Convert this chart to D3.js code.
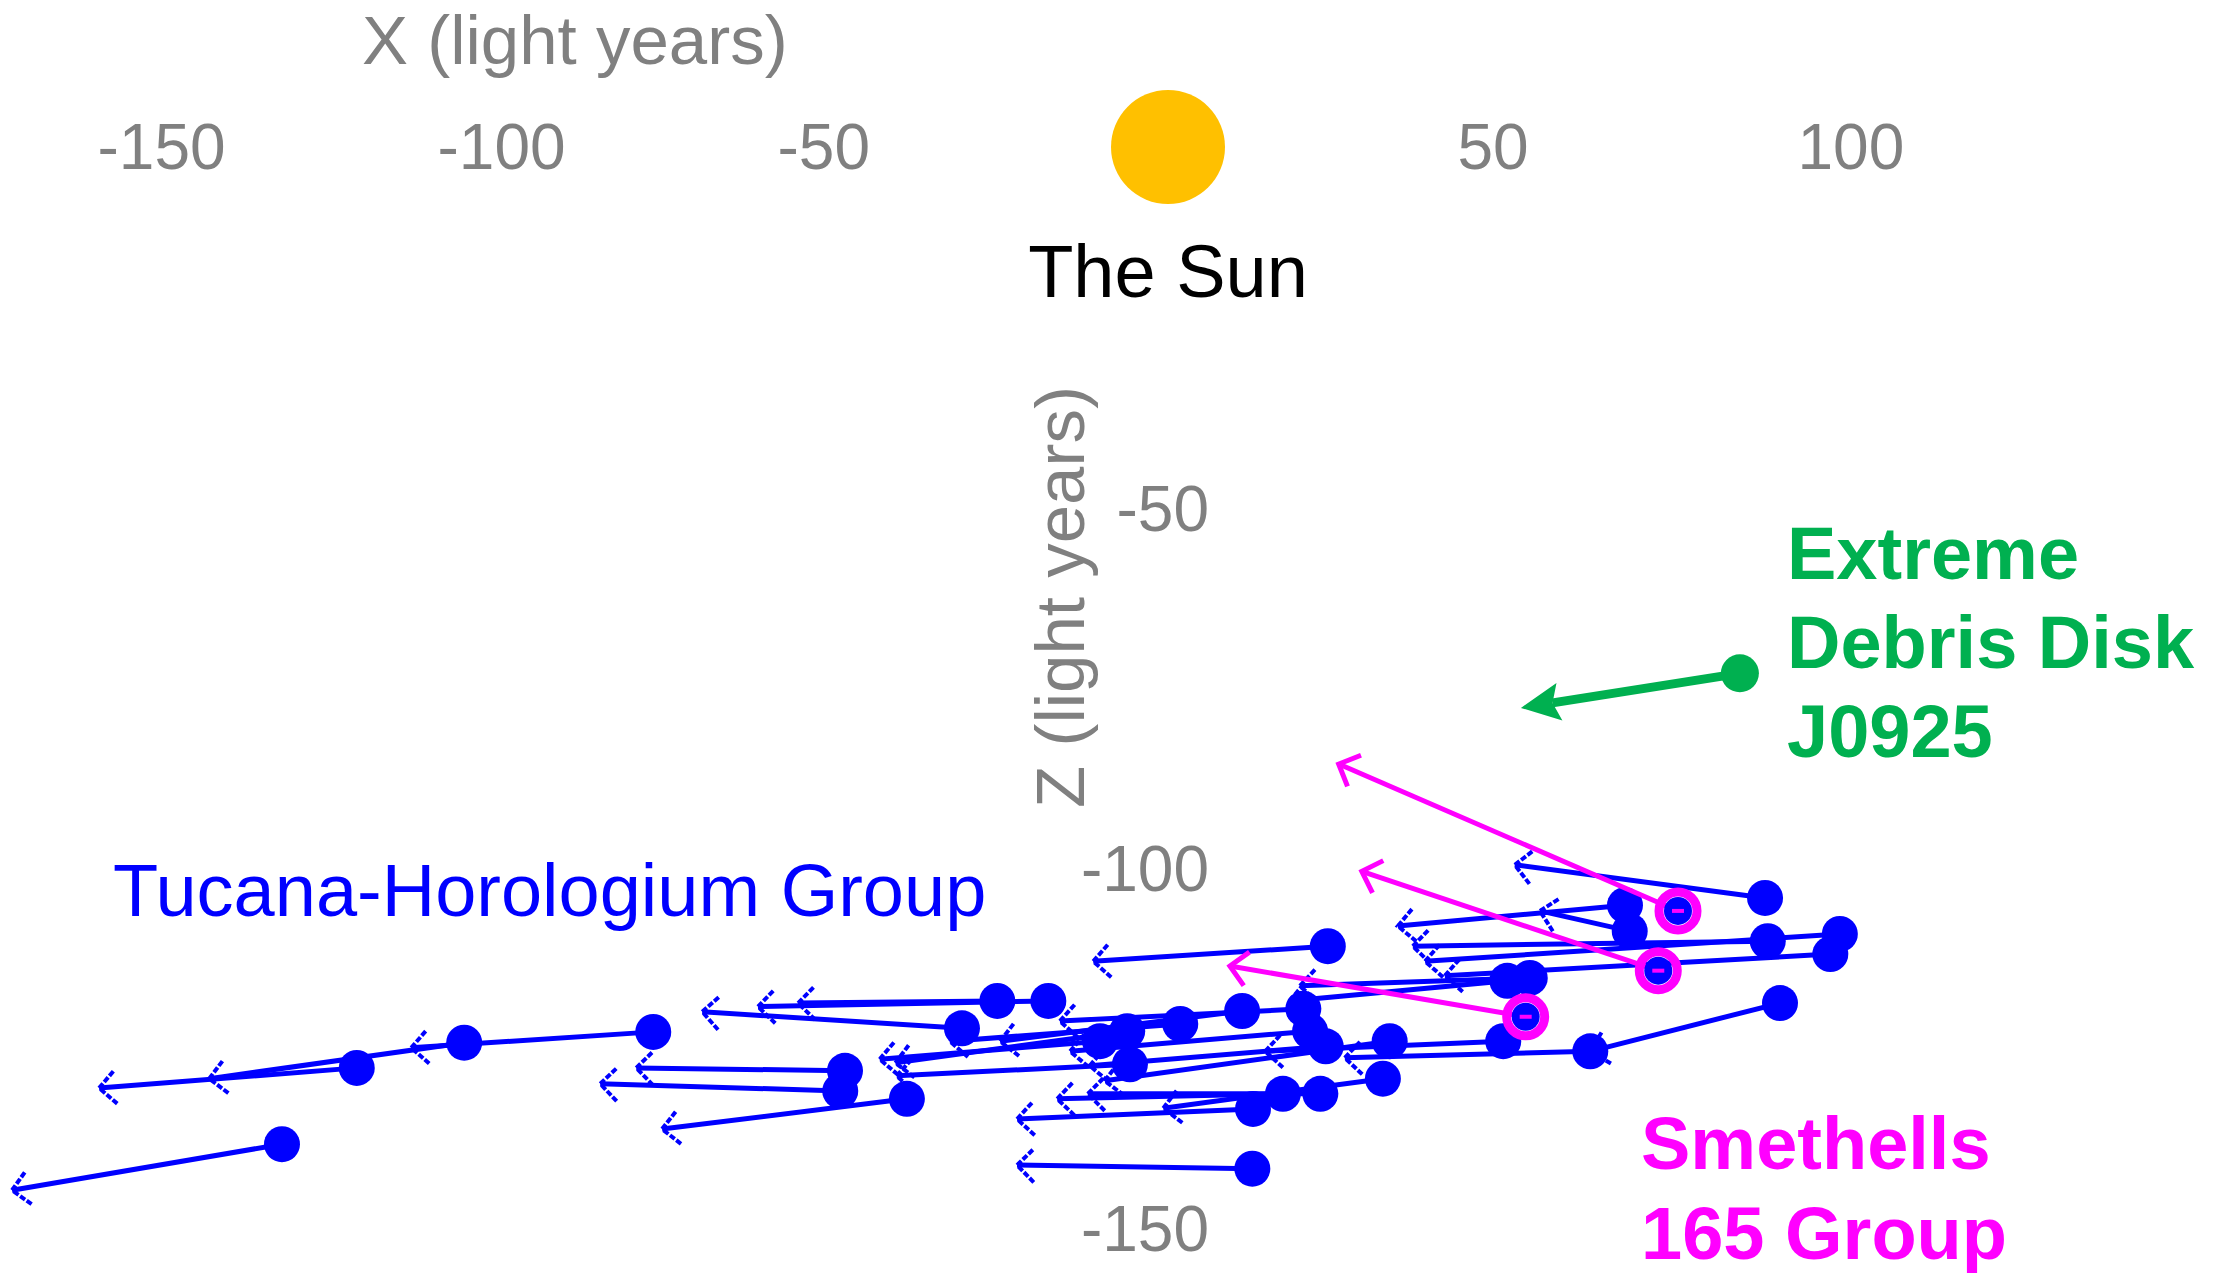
<!DOCTYPE html>
<html>
<head>
<meta charset="utf-8">
<script src="https://cdn.jsdelivr.net/npm/d3@7"></script>
<style>
  body { margin: 0; background: #fff; }
  text { font-family: "Liberation Sans", Arial, sans-serif; }
</style>
</head>
<body>
<div class="motion_wrapper"></div>
<script>

// axis ticks
const xTicks = [-150, -100, -50, 50, 100]
const zTicks = [-50, -100, -150]

// Tucana-Horologium members: position now (X, Z) and where the arrow points (ly)
const tucNowX = [-130.3, -119.3, -103.5, -75.7, -47.5, -48.2, -38.4, -25.1, -17.6, -30.3,
  -6.0, -5.6, 1.8, 10.9, 19.9, 20.9, 23.2, 32.6, 31.6, 22.4,
  16.9, 12.5, 12.4, 23.5, 49.9, 53.2, 49.3, 62.1, 90.0, 87.8,
  88.2, 98.8, 97.4, 67.2, 67.9, -10.0]
const tucNowZ = [-138.5, -127.9, -124.4, -122.9, -128.3, -131.1, -132.2, -118.6, -118.6, -122.4,
  -122.8, -127.4, -121.8, -120.0, -119.7, -122.8, -124.9, -124.2, -129.4, -131.5,
  -131.5, -133.6, -141.9, -111.0, -115.8, -115.4, -124.2, -125.6, -118.9, -104.3,
  -110.3, -109.3, -112.1, -105.3, -108.9, -124.2]
const tucTipX = [-170.0, -157.2, -141.0, -111.3, -78.2, -83.5, -74.4, -54.4, -60.3, -68.5,
  -40.1, -39.9, -32.1, -24.7, -15.9, -14.4, -11.5, -9.3, -0.7, -11.8,
  -16.3, -22.2, -22.2, -11.0, 17.9, 19.4, 14.3, 26.0, 62.1, 51.0,
  36.0, 37.8, 40.7, 33.8, 54.7, -42.4]
const tucTipZ = [-144.9, -130.7, -129.4, -125.1, -127.9, -130.1, -136.4, -118.9, -119.4, -120.1,
  -127.2, -129.0, -124.2, -124.2, -121.4, -125.6, -127.6, -129.7, -133.5, -131.5,
  -132.2, -135.0, -141.4, -113.1, -118.6, -116.5, -125.6, -126.5, -125.6, -99.7,
  -111.0, -113.1, -115.1, -108.2, -106.1, -126.7]

// Smethells 165 group
const smeNowX = [75.0, 72.1, 52.6]
const smeNowZ = [-106.1, -114.4, -120.8]
const smeTipX = [25.1, 28.5, 9.1]
const smeTipZ = [-85.7, -100.6, -113.75]

// J0925 debris disk
const diskNow = [84.1, -73.1]
const diskTip = [51.9, -77.9]

const width = 2228, height = 1273

const svg = d3.select(".motion_wrapper")
  .append("svg")
    .attr("width", width)
    .attr("height", height)

svg.append("rect").attr("width", width).attr("height", height).attr("fill", "white")

const xScale = d3.scaleLinear()
  .domain([-150, 100])
  .range([148, 1848])

const yScale = d3.scaleLinear()
  .domain([0, -150])
  .range([147, 1227])

const grey = "#808080"

// x axis sits on the z = 0 line, labels only (plain hyphen minus)
const xAxis = d3.axisBottom(xScale).tickValues(xTicks).tickSize(0).tickFormat(d => String(d))
const gx = svg.append("g")
  .attr("transform", "translate(0," + yScale(0) + ")")
  .call(xAxis)
gx.select(".domain").remove()
gx.selectAll("text")
  .attr("y", 0)
  .attr("dy", "0.35em")
  .attr("dx", -51)
  .attr("text-anchor", "start")
  .attr("font-size", 64)
  .attr("font-family", "Liberation Sans, Arial, sans-serif")
  .attr("fill", grey)

const yAxis = d3.axisLeft(yScale).tickValues(zTicks).tickSize(0).tickFormat(d => String(d))
const gy = svg.append("g")
  .attr("transform", "translate(1209,0)")
  .call(yAxis)
gy.select(".domain").remove()
gy.selectAll("text")
  .attr("x", 0)
  .attr("dy", "0.36em")
  .attr("font-size", 64)
  .attr("font-family", "Liberation Sans, Arial, sans-serif")
  .attr("fill", grey)

svg.append("text")
  .attr("x", 362).attr("y", 64)
  .attr("font-size", 69)
  .attr("fill", grey)
  .text("X (light years)")

svg.append("text")
  .attr("transform", "translate(1084,597) rotate(-90)")
  .attr("text-anchor", "middle")
  .attr("font-size", 69)
  .attr("fill", grey)
  .text("Z (light years)")

// the Sun at the origin
svg.append("circle")
  .attr("cx", xScale(0))
  .attr("cy", yScale(0))
  .attr("r", 57)
  .attr("fill", "#FFC000")

svg.append("text")
  .attr("x", xScale(0)).attr("y", 297)
  .attr("text-anchor", "middle")
  .attr("font-size", 74)
  .attr("fill", "black")
  .text("The Sun")

// open "<" arrow head at the tip, barbs angled back toward the star
function barbPath (tx, ty, fx, fy, len) {
  const a = Math.atan2(fy - ty, fx - tx)
  const b1 = [tx + len * Math.cos(a + Math.PI / 4), ty + len * Math.sin(a + Math.PI / 4)]
  const b2 = [tx + len * Math.cos(a - Math.PI / 4), ty + len * Math.sin(a - Math.PI / 4)]
  return "M" + b1 + "L" + tx + "," + ty + "L" + b2
}

const tuc = tucNowX.map((d, i) => ({x: d, z: tucNowZ[i], tx: tucTipX[i], tz: tucTipZ[i]}))
const sme = smeNowX.map((d, i) => ({x: d, z: smeNowZ[i], tx: smeTipX[i], tz: smeTipZ[i]}))
console.log(tuc, sme)

const blue = "#0000FF"
const magenta = "#FF00FF"

svg.selectAll("tucline")
  .data(tuc)
  .enter()
  .append("line")
    .attr("x1", d => xScale(d.x))
    .attr("y1", d => yScale(d.z))
    .attr("x2", d => xScale(d.tx))
    .attr("y2", d => yScale(d.tz))
    .attr("stroke", blue)
    .attr("stroke-width", 5)

svg.selectAll("tuchead")
  .data(tuc)
  .enter()
  .append("path")
    .attr("d", d => barbPath(xScale(d.tx), yScale(d.tz), xScale(d.x), yScale(d.z), 24))
    .attr("fill", "none")
    .attr("stroke", blue)
    .attr("stroke-width", 4)
    .attr("stroke-dasharray", "6,2")

svg.selectAll("tucdot")
  .data(tuc)
  .enter()
  .append("circle")
    .attr("cx", d => xScale(d.x))
    .attr("cy", d => yScale(d.z))
    .attr("r", 18)
    .attr("fill", blue)

// Smethells 165 members: blue dot, magenta ring and magenta motion arrow
svg.selectAll("smeline")
  .data(sme)
  .enter()
  .append("line")
    .attr("x1", d => xScale(d.x))
    .attr("y1", d => yScale(d.z))
    .attr("x2", d => xScale(d.tx))
    .attr("y2", d => yScale(d.tz))
    .attr("stroke", magenta)
    .attr("stroke-width", 5)

svg.selectAll("smehead")
  .data(sme)
  .enter()
  .append("path")
    .attr("d", d => barbPath(xScale(d.tx), yScale(d.tz), xScale(d.x), yScale(d.z), 24))
    .attr("fill", "none")
    .attr("stroke", magenta)
    .attr("stroke-width", 5)

svg.selectAll("smedot")
  .data(sme)
  .enter()
  .append("circle")
    .attr("cx", d => xScale(d.x))
    .attr("cy", d => yScale(d.z))
    .attr("r", 14)
    .attr("fill", blue)

svg.selectAll("smering")
  .data(sme)
  .enter()
  .append("circle")
    .attr("cx", d => xScale(d.x))
    .attr("cy", d => yScale(d.z))
    .attr("r", 19)
    .attr("fill", "none")
    .attr("stroke", magenta)
    .attr("stroke-width", 9)

svg.selectAll("smedash")
  .data(sme)
  .enter()
  .append("line")
    .attr("x1", d => xScale(d.x) - 6)
    .attr("x2", d => xScale(d.x) + 6)
    .attr("y1", d => yScale(d.z))
    .attr("y2", d => yScale(d.z))
    .attr("stroke", magenta)
    .attr("stroke-width", 4)

// J0925: thick green arrow
const green = "#00B050"
const gx0 = xScale(diskNow[0]), gy0 = yScale(diskNow[1])
const gx1 = xScale(diskTip[0]), gy1 = yScale(diskTip[1])
const ga = Math.atan2(gy0 - gy1, gx0 - gx1)
const headLen = 39, headHalf = 19
const bx = gx1 + headLen * Math.cos(ga), by = gy1 + headLen * Math.sin(ga)
const nx = gx1 + (headLen - 7) * Math.cos(ga), ny = gy1 + (headLen - 7) * Math.sin(ga)

svg.append("line")
  .attr("x1", gx0).attr("y1", gy0)
  .attr("x2", nx).attr("y2", ny)
  .attr("stroke", green)
  .attr("stroke-width", 9)

svg.append("path")
  .attr("d", "M" + gx1 + "," + gy1 +
    "L" + (bx - headHalf * Math.sin(ga)) + "," + (by + headHalf * Math.cos(ga)) +
    "L" + nx + "," + ny +
    "L" + (bx + headHalf * Math.sin(ga)) + "," + (by - headHalf * Math.cos(ga)) + "Z")
  .attr("fill", green)

svg.append("circle")
  .attr("cx", gx0).attr("cy", gy0)
  .attr("r", 19)
  .attr("fill", green)

// group labels
svg.append("text")
  .attr("x", 113).attr("y", 916)
  .attr("font-size", 74)
  .attr("fill", blue)
  .text("Tucana-Horologium Group")

const diskLines = ["Extreme", "Debris Disk", "J0925"]
svg.selectAll("disklabel")
  .data(diskLines)
  .enter()
  .append("text")
    .attr("x", 1787)
    .attr("y", (d, i) => 579 + i * 89)
    .attr("font-size", 74)
    .attr("font-weight", "bold")
    .attr("fill", green)
    .text(d => d)

// bottom line runs off the page in the original too
const smeLines = ["Smethells", "165 Group"]
svg.selectAll("smelabel")
  .data(smeLines)
  .enter()
  .append("text")
    .attr("x", 1641)
    .attr("y", (d, i) => 1169 + i * 90)
    .attr("font-size", 74)
    .attr("font-weight", "bold")
    .attr("fill", magenta)
    .text(d => d)

</script>
</body>
</html>
